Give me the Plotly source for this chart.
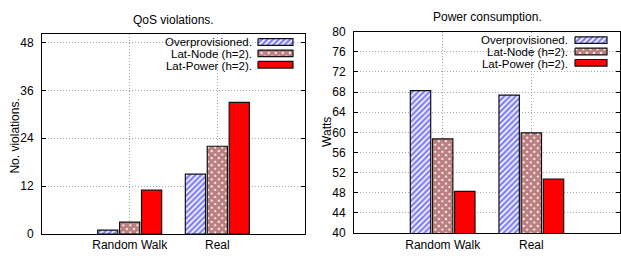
import plotly.graph_objects as go

# ---------------- data ----------------
categories = ["Random Walk", "Real"]
series_names = ["Overprovisioned.", "Lat-Node (h=2).", "Lat-Power (h=2)."]

qos_overprov = [1, 15]
qos_latnode = [3, 22]
qos_latpower = [11, 33]

power_overprov = [68.3, 67.4]
power_latnode = [58.7, 59.9]
power_latpower = [48.3, 50.7]

qos_ticks = [0, 12, 24, 36, 48]
power_ticks = [40, 44, 48, 52, 56, 60, 64, 68, 72, 76, 80]

titles = ["QoS violations.", "Power consumption."]
ylabels = ["No. violations.", "Watts"]

# ---------------- styling ----------------
W, H = 621, 260
FONT = "Liberation Sans, Arial, Helvetica, sans-serif"

fills = [
    dict(color="white", pattern=dict(shape="/", fgcolor="#0000ff", bgcolor="white",
                                     size=4, solidity=0.6)),
    dict(color="white", pattern=dict(shape="x", fgcolor="#7a0000", bgcolor="white",
                                     size=5, solidity=0.85)),
    dict(color="#ff0000"),
]

fig = go.Figure()

panels = [
    ("x", "y", [qos_overprov, qos_latnode, qos_latpower]),
    ("x2", "y2", [power_overprov, power_latnode, power_latpower]),
]
for xa, ya, vals in panels:
    for name, v, f in zip(series_names, vals, fills):
        marker = dict(color=f["color"], line=dict(color="#111111", width=1.2))
        if "pattern" in f:
            marker["pattern"] = f["pattern"]
        fig.add_trace(go.Bar(x=categories, y=v, name=name, marker=marker,
                             xaxis=xa, yaxis=ya, showlegend=False))

# ---------------- custom gnuplot-like legends ----------------
# text right-aligned (one multi-line text), swatches to its right; pixel coords
LEG_FONT = 11.5
legend_specs = [
    dict(text_right=253, sw_x0=258, sw_x1=293, row0=37, dy=12),
    dict(text_right=569, sw_x0=575, sw_x1=607, row0=35, dy=12),
]
annotations = []
for spec in legend_specs:
    base = spec["dy"] / 1.3  # annotation font size that yields the row spacing
    lines = "<br>".join('<span style="font-size:%spx">%s</span>' % (LEG_FONT, n)
                        for n in series_names)
    ymid = spec["row0"] + spec["dy"]
    annotations.append(dict(
        x=spec["text_right"] / W, y=1 - (ymid + 0.5) / H, xref="paper", yref="paper",
        xanchor="right", yanchor="middle", align="right", text=lines,
        showarrow=False, borderpad=0,
        font=dict(size=base, color="black", family=FONT)))
    for i, f in enumerate(fills):
        yc = spec["row0"] + i * spec["dy"]
        x0, x1 = spec["sw_x0"], spec["sw_x1"]
        y0, y1 = yc - 3.5, yc + 3.5
        kw = dict(fillcolor=f["color"])
        if "pattern" in f:
            kw["fillpattern"] = f["pattern"]
        fig.add_trace(go.Scatter(
            x=[x0, x1, x1, x0, x0], y=[y0, y0, y1, y1, y0], mode="lines",
            fill="toself", line=dict(color="#111111", width=1.2),
            xaxis="x3", yaxis="y3", showlegend=False, hoverinfo="skip", **kw))

# titles and y labels
annotations += [
    dict(x=173.5 / W, y=1 - 14 / H, xref="paper", yref="paper", text=titles[0],
         showarrow=False, xanchor="center", yanchor="middle",
         font=dict(size=12, color="black", family=FONT)),
    dict(x=487 / W, y=1 - 11 / H, xref="paper", yref="paper", text=titles[1],
         showarrow=False, xanchor="center", yanchor="middle",
         font=dict(size=12, color="black", family=FONT)),
    dict(x=15 / W, y=1 - 137 / H, xref="paper", yref="paper", text=ylabels[0],
         showarrow=False, textangle=-90, xanchor="center", yanchor="middle",
         font=dict(size=12, color="black", family=FONT)),
    dict(x=327 / W, y=1 - 132 / H, xref="paper", yref="paper", text=ylabels[1],
         showarrow=False, textangle=-90, xanchor="center", yanchor="middle",
         font=dict(size=12, color="black", family=FONT)),
]

grid = dict(showgrid=True, gridcolor="#a8a8a8", griddash="1px,2px", gridwidth=1)
xcommon = dict(type="category", range=[-1, 2], showline=True, linecolor="black",
               linewidth=1, mirror=True, ticks="", zeroline=False,
               tickfont=dict(size=12, color="black", family=FONT), **grid)
ycommon = dict(showline=True, linecolor="black", linewidth=1, mirror="ticks",
               ticks="inside", ticklen=4, tickcolor="black", zeroline=False,
               ticklabelstandoff=5,
               tickfont=dict(size=12, color="black", family=FONT), **grid)

fig.update_layout(
    width=W, height=H,
    margin=dict(l=0, r=0, t=0, b=0),
    paper_bgcolor="white", plot_bgcolor="rgba(0,0,0,0)",
    barmode="group", bargap=0.25, bargroupgap=0.08,
    font=dict(family=FONT, size=12, color="black"),
    annotations=annotations,
    xaxis=dict(domain=[42 / W, 305 / W], anchor="y", **xcommon),
    yaxis=dict(domain=[(H - 240) / H, (H - 29) / H], anchor="x",
               range=[0, 50], tickvals=qos_ticks, **ycommon),
    xaxis2=dict(domain=[354 / W, 620 / W], anchor="y2", **xcommon),
    yaxis2=dict(domain=[(H - 239) / H, (H - 26) / H], anchor="x2",
                range=[40, 80], tickvals=power_ticks, **ycommon),
    xaxis3=dict(domain=[0, 1], range=[0, W], visible=False, anchor="y3",
                fixedrange=True),
    yaxis3=dict(domain=[0, 1], range=[H, 0], visible=False, anchor="x3",
                fixedrange=True),
    showlegend=False,
)

fig.write_html(
    "out.html",
    config={"displayModeBar": False},
    post_script="document.body.style.margin='0';document.body.style.overflow='hidden';",
)
